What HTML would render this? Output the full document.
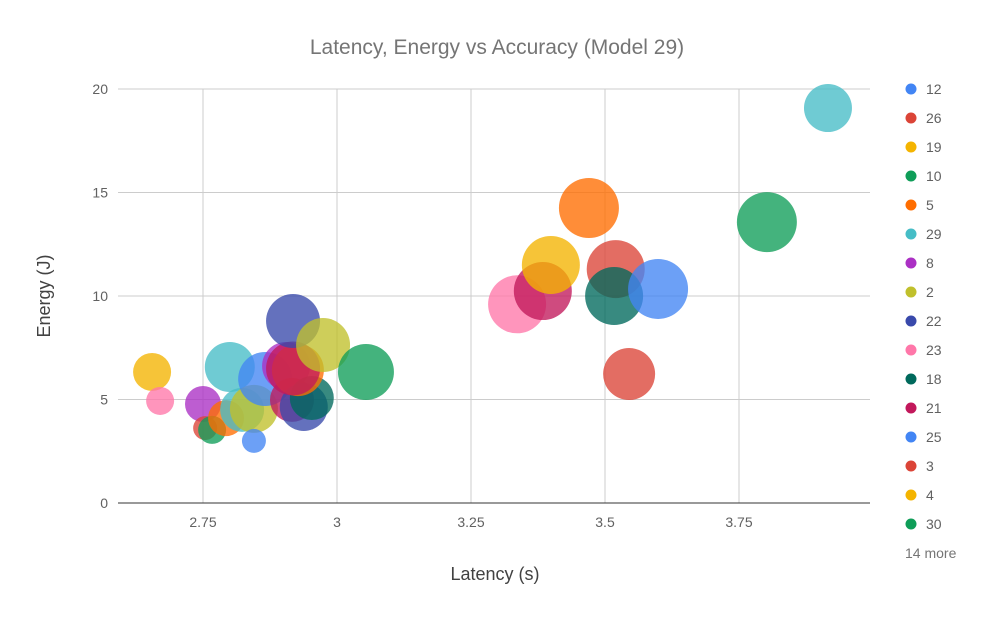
<!DOCTYPE html>
<html><head><meta charset="utf-8"><style>
body{margin:0;background:#fff;}
svg text{font-family:"Liberation Sans",Arial,sans-serif;}
</style></head><body>
<svg id="chart" width="995" height="615" xmlns="http://www.w3.org/2000/svg">
<rect width="995" height="615" fill="#fff"/>
<text x="497" y="54" text-anchor="middle" font-size="21" fill="#757575">Latency, Energy vs Accuracy (Model 29)</text>
<text x="495" y="580" text-anchor="middle" font-size="18" fill="#424242">Latency (s)</text>
<text transform="translate(50,296) rotate(-90)" text-anchor="middle" font-size="18" fill="#424242">Energy (J)</text>
<g id="grid"></g><g id="bubbles"></g><g id="legend"></g>
</svg>
<script>
const xTicks=[2.75,3,3.25,3.5,3.75];
const xTickLabels=["2.75","3","3.25","3.5","3.75"];
const yTicks=[0,5,10,15,20];
const yTickLabels=["0","5","10","15","20"];
const latency=[2.655,2.670,2.750,2.754,2.767,2.793,2.800,2.823,2.845,2.845,2.866,2.905,2.916,2.938,2.953,2.927,2.918,2.918,2.974,3.054,3.336,3.384,3.399,3.470,3.520,3.517,3.599,3.545,3.802,3.916];
const energy=[6.33,4.93,4.78,3.62,3.53,4.10,6.57,4.50,4.55,3.00,5.99,6.62,4.98,4.64,5.07,6.42,6.50,8.79,7.63,6.33,9.60,10.24,11.50,14.25,11.30,10.00,10.34,6.23,13.57,19.08];
const accuracy=[19,14,18,12,14,18,25,22,24,12,27,24,22,24,22,26,27,27,27,28,29,29,29,30,29,29,30,26,30,24];
const colors=["#f4b400","#ff77a9","#ab30c4","#db4437","#0f9d58","#ff6d00","#46bdc6","#46bdc6","#c0c02c","#4285f4","#4285f4","#ab30c4","#c2185b","#3949ab","#00695c","#ff6d00","#c2185b","#3949ab","#c0c02c","#0f9d58","#ff77a9","#c2185b","#f4b400","#ff6d00","#db4437","#00695c","#4285f4","#db4437","#0f9d58","#46bdc6"];
const legendLabels=["12","26","19","10","5","29","8","2","22","23","18","21","25","3","4","30"];
const legendColors=["#4285f4","#db4437","#f4b400","#0f9d58","#ff6d00","#46bdc6","#ab30c4","#c0c02c","#3949ab","#ff77a9","#00695c","#c2185b","#4285f4","#db4437","#f4b400","#0f9d58"];
const NS="http://www.w3.org/2000/svg";
const X0=118,X1=870,Y0=503,Y1=89;
const xMin=2.75-85/536, xMax=2.75+667/536;
function xs(v){return X0+(v-xMin)/(xMax-xMin)*(X1-X0);}
function ys(v){return Y0-(v/20)*(Y0-Y1);}
function rs(v){return v;}
function mk(t,a,p){const e=document.createElementNS(NS,t);for(const k in a)e.setAttribute(k,a[k]);p.appendChild(e);return e;}
const grid=document.getElementById('grid');
xTicks.forEach((t,i)=>{
 const l=mk('line',{x1:xs(t),x2:xs(t),y1:Y1,y2:Y0,stroke:'#ccc','stroke-width':1},grid);
 
 
 const tx=mk('text',{x:xs(t),y:527,'text-anchor':'middle','font-size':14,fill:'#616161'},grid);
 tx.textContent=xTickLabels[i];
 
 
});
yTicks.forEach((t,i)=>{
 const l=mk('line',{x1:X0,x2:X1,y1:ys(t),y2:ys(t),stroke:t===0?'#333':'#ccc','stroke-width':1},grid);
 
 
 const tx=mk('text',{x:108,y:ys(t)+5,'text-anchor':'end','font-size':14,fill:'#616161'},grid);
 tx.textContent=yTickLabels[i];
 
 
});
const bg=document.getElementById('bubbles');
latency.forEach((v,i)=>{
 const c=mk('circle',{cx:xs(v),cy:ys(energy[i]),r:rs(accuracy[i]),fill:colors[i],'fill-opacity':0.78},bg);
 
 
});
const lg=document.getElementById('legend');
legendLabels.forEach((s,i)=>{
 const y=89+29*i;
 const c=mk('circle',{cx:911,cy:y,r:5.5,fill:legendColors[i]},lg);
 
 
 const t=mk('text',{x:926,y:y+5,'font-size':14,fill:'#616161'},lg);
 t.textContent=s;
 
 
});
const more=mk('text',{x:905,y:558,'font-size':14,fill:'#757575'},lg);
more.textContent="14 more";


</script>
</body></html>
